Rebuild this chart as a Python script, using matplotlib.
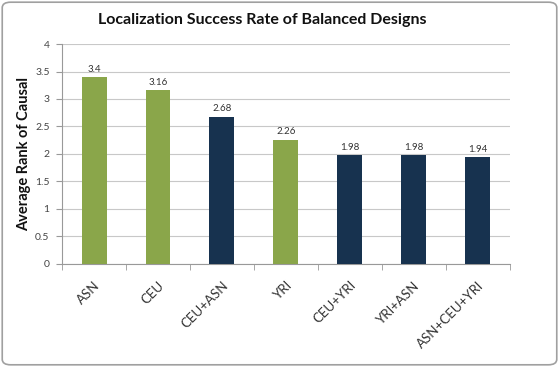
import matplotlib
matplotlib.use("Agg")
import matplotlib.pyplot as plt
from matplotlib.patches import FancyBboxPatch
import numpy as np

categories = ["ASN", "CEU", "CEU+ASN", "YRI", "CEU+YRI", "YRI+ASN", "ASN+CEU+YRI"]
values = [3.4, 3.16, 2.68, 2.26, 1.98, 1.98, 1.94]
labels = ["3.4", "3.16", "2.68", "2.26", "1.98", "1.98", "1.94"]
is_single = [True, True, False, True, False, False, False]
yticks = [0, 0.5, 1, 1.5, 2, 2.5, 3, 3.5, 4]
ytick_labels = ["0", "0.5", "1", "1.5", "2", "2.5", "3", "3.5", "4"]

GREEN = "#8aa64a"
NAVY = "#17324f"

plt.rcParams['font.family'] = ['Lato', 'DejaVu Sans']

fig = plt.figure(figsize=(5.59, 3.67), dpi=100)
fig.patch.set_facecolor("white")
border = FancyBboxPatch((0.004, 0.006), 0.992, 0.988, boxstyle="round,pad=0,rounding_size=0.015",
                        transform=fig.transFigure, fill=False, edgecolor="#a0a0a0", linewidth=1.2)
fig.patches.append(border)

ax = fig.add_axes([0.111, 0.281, 0.801, 0.599])
x = np.arange(len(categories))
colors = [GREEN if s else NAVY for s in is_single]
ax.bar(x, values, width=0.39, color=colors, zorder=3)
for xi, v, lab in zip(x, values, labels):
    ax.text(xi, v + 0.06, lab, ha="center", va="bottom", fontsize=7, color="#333333")

ax.set_xlim(-0.5, len(categories) - 0.5)
ax.set_ylim(0, 4)
ax.set_yticks(yticks)
ax.set_yticklabels(ytick_labels, fontsize=7.5, color="#444444")
ax.yaxis.grid(True, color="#c8c8c8", linewidth=0.8, zorder=0)
ax.set_xticks(x)
ax.set_xticklabels(categories, rotation=45, ha="right", rotation_mode="anchor",
                   fontsize=9.5, color="#333333")
ax.tick_params(axis="x", length=0, pad=11)
ax.set_xticks(np.arange(-0.5, len(categories)), minor=True)
ax.tick_params(axis="x", which="minor", length=4, color="#999999")
ax.tick_params(axis="y", length=4, color="#999999", pad=5)
for s in ["top", "right"]:
    ax.spines[s].set_visible(False)
ax.spines["left"].set_color("#999999")
ax.spines["bottom"].set_color("#999999")
ax.set_ylabel("Average Rank of Causal", fontsize=10.5, fontweight="bold", color="#111111", labelpad=3)

fig.text(0.47, 0.945, "Localization Success Rate of Balanced Designs", ha="center", va="center",
         fontsize=11.5, fontweight="bold", color="#111111")

fig.savefig("out.png", dpi=100, facecolor="white")
